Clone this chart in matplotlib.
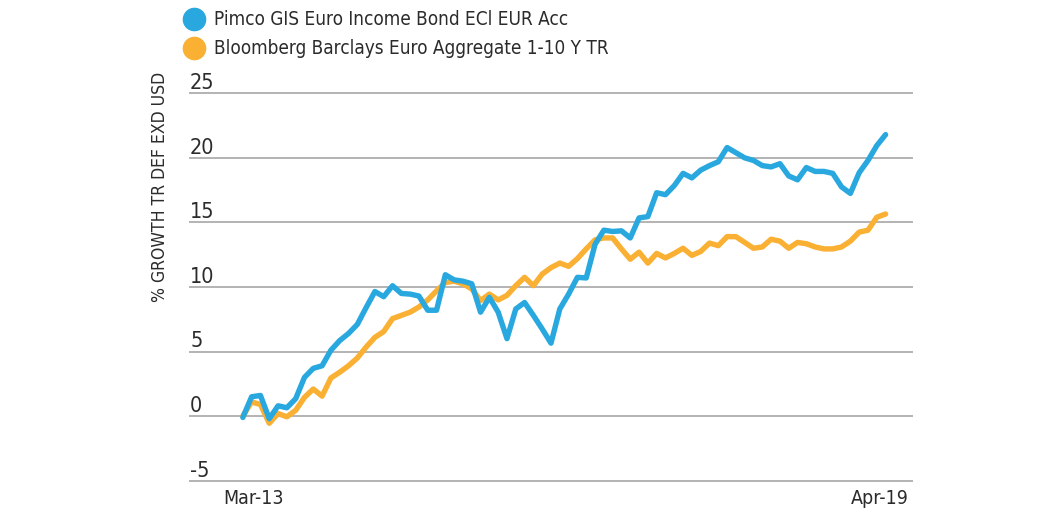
import matplotlib
matplotlib.use("Agg")
import matplotlib.pyplot as plt
from matplotlib.lines import Line2D

# fuente condensada (DejaVu Sans Condensed)
plt.rcParams["font.family"] = ["DejaVu Sans"]
plt.rcParams["font.stretch"] = "condensed"

# === Datos (mensuales, Mar-13 .. Apr-19) ===
series_names = ["Pimco GIS Euro Income Bond ECl EUR Acc",
                "Bloomberg Barclays Euro Aggregate 1-10 Y TR"]
pimco = [-0.1, 1.5, 1.6, -0.2, 0.8, 0.65, 1.35, 3.0, 3.7, 3.9,
         5.1, 5.85, 6.4, 7.1, 8.4, 9.65, 9.25, 10.1, 9.5, 9.45,
         9.3, 8.2, 8.2, 10.95, 10.55, 10.45, 10.25, 8.05, 9.2, 8.05,
         6.0, 8.3, 8.8, 7.8, 6.75, 5.65, 8.3, 9.45, 10.75, 10.7,
         13.3, 14.4, 14.3, 14.35, 13.8, 15.35, 15.45, 17.3, 17.15, 17.85,
         18.8, 18.45, 19.05, 19.4, 19.7, 20.8, 20.4, 20.0, 19.8, 19.4,
         19.3, 19.55, 18.6, 18.3, 19.25, 18.95, 18.95, 18.8, 17.75, 17.25,
         18.85, 19.8, 20.95, 21.8]
bbg = [0.0, 1.1, 0.9, -0.55, 0.2, -0.05, 0.45, 1.45, 2.1, 1.55,
       2.95, 3.4, 3.9, 4.5, 5.35, 6.1, 6.55, 7.55, 7.8, 8.05,
       8.45, 9.0, 9.7, 10.35, 10.45, 10.25, 9.85, 8.95, 9.45, 9.0,
       9.35, 10.1, 10.75, 10.1, 11.0, 11.5, 11.85, 11.6, 12.2, 12.95,
       13.65, 13.8, 13.8, 12.95, 12.15, 12.7, 11.85, 12.6, 12.25, 12.6,
       13.0, 12.45, 12.75, 13.4, 13.2, 13.9, 13.9, 13.45, 13.0, 13.1,
       13.7, 13.55, 13.0, 13.45, 13.35, 13.1, 12.95, 12.95, 13.1, 13.55,
       14.25, 14.4, 15.4, 15.65]
x_labels = ["Mar-13", "Apr-19"]
y_ticks = [-5, 0, 5, 10, 15, 20, 25]
y_label = "% GROWTH TR DEF EXD USD"

blue = "#29A8E0"
orange = "#F9B033"
txt = "#2B2B2B"
grid_c = "#B3B3B3"

W, H = 1040, 520
fig = plt.figure(figsize=(W / 100, H / 100), dpi=100)
ax = fig.add_axes([190 / W, 1 - 480.7 / H, (912 - 190) / W, (480.7 - 93.3) / H])

xs = list(range(len(pimco)))
ax.plot(xs, bbg, color=orange, lw=3.9, solid_capstyle="round",
        solid_joinstyle="round", clip_on=False, zorder=3)
ax.plot(xs, pimco, color=blue, lw=3.9, solid_capstyle="round",
        solid_joinstyle="round", clip_on=False, zorder=4)

ax.set_xlim(-6, 76)
ax.set_ylim(-5, 25)
for v in y_ticks:
    ax.axhline(v, color=grid_c, lw=1.4, zorder=1, clip_on=False)
    ax.text(0, v + 0.32, str(v), transform=ax.get_yaxis_transform(),
            ha="left", va="baseline", fontsize=15.5, color=txt)

for s in ax.spines.values():
    s.set_visible(False)
ax.set_xticks([])
ax.set_yticks([])

# etiquetas del eje x
fig.text(223 / W, 1 - 499 / H, x_labels[0], ha="left", va="center",
         fontsize=14, color=txt)
fig.text(909 / W, 1 - 499 / H, x_labels[1], ha="right", va="center",
         fontsize=14, color=txt)

fig.text(160 / W, 1 - 187 / H, y_label, rotation=90, ha="center",
         va="center", fontsize=12.6, color=txt)

# leyenda manual
for i, (name, c) in enumerate(zip(series_names, [blue, orange])):
    yy = 1 - (19.3 + 29 * i) / H
    fig.add_artist(Line2D([193.5 / W], [yy], marker="o", markersize=16,
                          color=c, transform=fig.transFigure))
    fig.text(214 / W, yy, name, ha="left", va="center", fontsize=13.6,
             color=txt)

plt.savefig("out.png", dpi=100)
